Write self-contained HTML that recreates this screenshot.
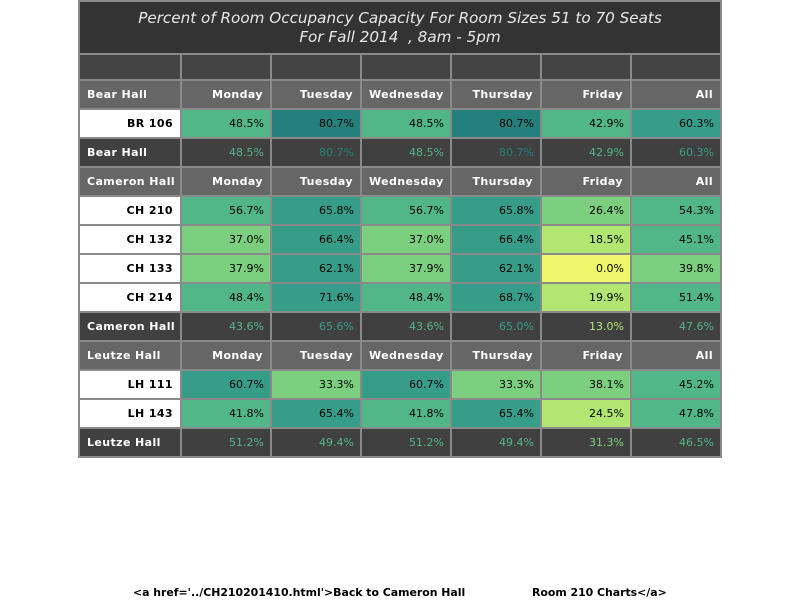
<!DOCTYPE html>
<html><head><meta charset="utf-8"><style>
body{margin:0;width:800px;height:600px;background:#fff;font-family:"DejaVu Sans","Liberation Sans",sans-serif;position:relative;overflow:hidden}
#tbl{position:absolute;left:78px;top:0;width:644px;height:458px;background:#8a8a8a}
.c{position:absolute;box-sizing:border-box;font-size:11px;line-height:28px;padding:0 6px;white-space:nowrap}
.title{position:absolute;left:80px;top:2px;width:640px;height:51px;background:#333;color:#e8e8e8;font-style:italic;font-size:15.2px;text-align:center;line-height:19px;padding-top:7px;box-sizing:border-box}
.foot{position:absolute;top:586px;font-size:10.9px;font-weight:bold;color:#000}
</style></head><body>
<div id="tbl"></div>
<div class="title">Percent of Room Occupancy Capacity For Room Sizes 51 to 70 Seats<br>For Fall 2014 &nbsp;, 8am - 5pm</div>
<div class="foot" style="left:133px">&lt;a href='../CH210201410.html'&gt;Back to Cameron Hall</div>
<div class="foot" style="left:532px">Room 210 Charts&lt;/a&gt;</div>
<script>
const days=["Monday","Tuesday","Wednesday","Thursday","Friday","All"];
const halls=["Bear Hall","Cameron Hall","Leutze Hall"];
const rooms=[["BR 106"],["CH 210","CH 132","CH 133","CH 214"],["LH 111","LH 143"]];
const roomValues=[
 [[48.5,80.7,48.5,80.7,42.9,60.3]],
 [[56.7,65.8,56.7,65.8,26.4,54.3],[37.0,66.4,37.0,66.4,18.5,45.1],[37.9,62.1,37.9,62.1,0.0,39.8],[48.4,71.6,48.4,68.7,19.9,51.4]],
 [[60.7,33.3,60.7,33.3,38.1,45.2],[41.8,65.4,41.8,65.4,24.5,47.8]]
];
const hallValues=[[48.5,80.7,48.5,80.7,42.9,60.3],[43.6,65.6,43.6,65.0,13.0,47.6],[51.2,49.4,51.2,49.4,31.3,46.5]];
function col(v){if(v<12.5)return"#ecf86a";if(v<25)return"#b1e673";if(v<40)return"#7ccf7e";if(v<60)return"#52b788";if(v<75)return"#369d88";return"#23807b";}
const xs=[80,182,272,362,452,542,632],ws=[100,88,88,88,88,88,88];
const tbl=document.getElementById('tbl');
function cell(x,y,w,h,bg,txt,color,align,bold,name){
 const d=document.createElement('div');d.className='c';
 
 
 d.style.cssText=`left:${x-78}px;top:${y}px;width:${w}px;height:${h}px;background:${bg};color:${color};text-align:${align};font-weight:${bold?'bold':'normal'};${bold?'font-size:11px;letter-spacing:0.4px;padding:0 7px;':''}`;
 d.textContent=txt;tbl.appendChild(d);}
for(let i=0;i<7;i++)cell(xs[i],55,ws[i],24,"#444","","#fff","left",0,"blank-header-cell");
let y=81;
halls.forEach((h,hi)=>{
 cell(xs[0],y,ws[0],27,"#666",h,"#fff","left",1,"hall-header");
 days.forEach((d,i)=>cell(xs[i+1],y,ws[i+1],27,"#666",d,"#fff","right",1,"day-header"));
 y+=29;
 rooms[hi].forEach((r,ri)=>{
  cell(xs[0],y,ws[0],27,"#fff",r,"#000","right",1,"room-label");
  roomValues[hi][ri].forEach((v,i)=>cell(xs[i+1],y,ws[i+1],27,col(v),v.toFixed(1)+"%","#000","right",0,"heat-cell"));
  y+=29;
 });
 cell(xs[0],y,ws[0],27,"#404040",h,"#fff","left",1,"hall-summary-label");
 hallValues[hi].forEach((v,i)=>cell(xs[i+1],y,ws[i+1],27,"#404040",v.toFixed(1)+"%",col(v),"right",0,"hall-summary-cell"));
 y+=29;
});
</script>
</body></html>
